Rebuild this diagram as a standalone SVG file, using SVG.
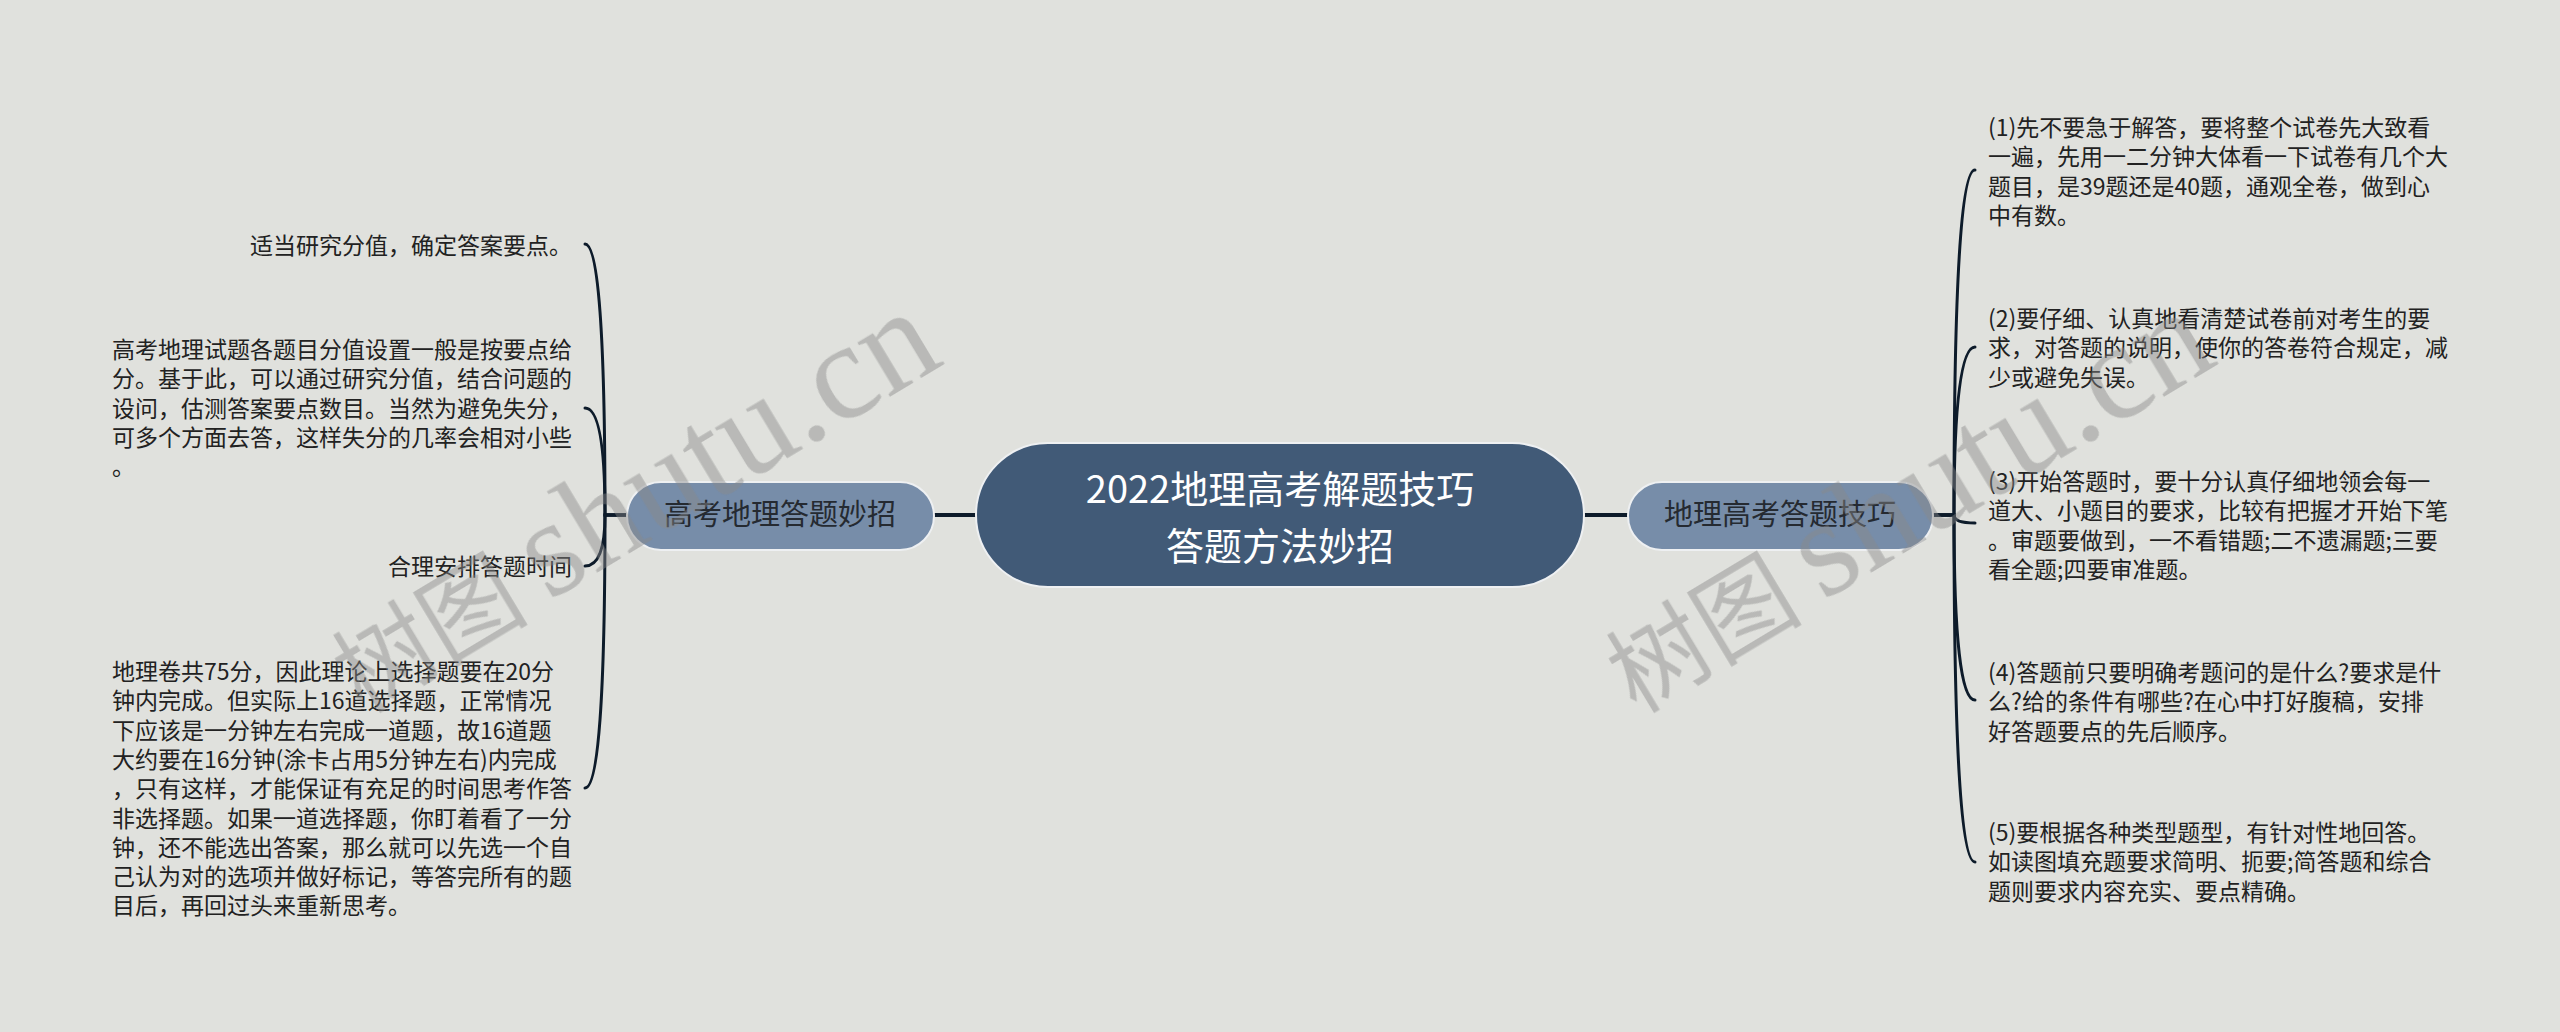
<svg xmlns="http://www.w3.org/2000/svg" width="2560" height="1032" viewBox="0 0 2560 1032">
<style>
.bg{fill:#e0e1dd}
.root{fill:#415a77;stroke:#eef0f2;stroke-width:2}
.branch{fill:#778da9;stroke:#eef0f2;stroke-width:2}
.rt{font-family:"Noto Sans CJK SC","Noto Sans",sans-serif;font-size:38px;fill:#ffffff;text-anchor:middle}
.bt{font-family:"Noto Sans CJK SC","Noto Sans",sans-serif;font-size:29px;fill:#252a31;text-anchor:middle}
.lt{font-family:"Noto Sans CJK SC","Noto Sans",sans-serif;font-size:23px;fill:#222222}
.end{text-anchor:end}
.c1{fill:none;stroke:#0d1b2a;stroke-width:4}
.c2{fill:none;stroke:#0d1b2a;stroke-width:3;stroke-linecap:round}
.wm{fill:#8a8a8a;opacity:0.45}
.wmc{font-family:"Noto Sans CJK SC",sans-serif;font-size:98px}
.wml{font-family:"Liberation Serif",serif;font-size:138px}
</style>
<rect class="bg" x="0" y="0" width="2560" height="1032"/>

<g id="connectors">
<path class="c1" d="M976 515 L934 515"/>
<path class="c1" d="M1584 515 L1628 515"/>
<path class="c2" d="M627 515 L605 515 Q605 244 585 244"/>
<path class="c2" d="M627 515 L605 515 Q605 408 585 408"/>
<path class="c2" d="M627 515 L605 515 Q605 566 585 566"/>
<path class="c2" d="M627 515 L605 515 Q605 788 585 788"/>
<path class="c2" d="M1933 515 L1954 515 Q1954 170 1975 170"/>
<path class="c2" d="M1933 515 L1954 515 Q1954 347 1975 347"/>
<path class="c2" d="M1933 515 L1954 515 Q1954 523 1975 523"/>
<path class="c2" d="M1933 515 L1954 515 Q1954 700 1975 700"/>
<path class="c2" d="M1933 515 L1954 515 Q1954 862 1975 862"/>
</g>

<g id="root">
<rect class="root" x="976" y="443" width="608" height="144" rx="72" ry="72"/>
<text class="rt" x="1280" y="503">2022地理高考解题技巧</text>
<text class="rt" x="1280" y="560">答题方法妙招</text>
</g>

<g id="left-branch">
<rect class="branch" x="627" y="482" width="307" height="68" rx="34" ry="34"/>
<text class="bt" x="780" y="525">高考地理答题妙招</text>
</g>

<g id="right-branch">
<rect class="branch" x="1628" y="482" width="305" height="68" rx="34" ry="34"/>
<text class="bt" x="1780" y="525">地理高考答题技巧</text>
</g>

<g id="left-1">
<text class="lt end" x="572" y="254">适当研究分值，确定答案要点。</text>
</g>

<g id="left-2">
<text class="lt" x="112" y="358">
<tspan x="112" y="358">高考地理试题各题目分值设置一般是按要点给</tspan>
<tspan x="112" dy="29.3">分。基于此，可以通过研究分值，结合问题的</tspan>
<tspan x="112" dy="29.3">设问，估测答案要点数目。当然为避免失分，</tspan>
<tspan x="112" dy="29.3">可多个方面去答，这样失分的几率会相对小些</tspan>
<tspan x="112" dy="29.3">。</tspan>
</text>
</g>

<g id="left-3">
<text class="lt end" x="572" y="575">合理安排答题时间</text>
</g>

<g id="left-4">
<text class="lt" x="112" y="680">
<tspan x="112" y="680">地理卷共75分，因此理论上选择题要在20分</tspan>
<tspan x="112" dy="29.3">钟内完成。但实际上16道选择题，正常情况</tspan>
<tspan x="112" dy="29.3">下应该是一分钟左右完成一道题，故16道题</tspan>
<tspan x="112" dy="29.3">大约要在16分钟(涂卡占用5分钟左右)内完成</tspan>
<tspan x="112" dy="29.3">，只有这样，才能保证有充足的时间思考作答</tspan>
<tspan x="112" dy="29.3">非选择题。如果一道选择题，你盯着看了一分</tspan>
<tspan x="112" dy="29.3">钟，还不能选出答案，那么就可以先选一个自</tspan>
<tspan x="112" dy="29.3">己认为对的选项并做好标记，等答完所有的题</tspan>
<tspan x="112" dy="29.3">目后，再回过头来重新思考。</tspan>
</text>
</g>

<g id="right-1">
<text class="lt" x="1988" y="136">
<tspan x="1988" y="136">(1)先不要急于解答，要将整个试卷先大致看</tspan>
<tspan x="1988" dy="29.3">一遍，先用一二分钟大体看一下试卷有几个大</tspan>
<tspan x="1988" dy="29.3">题目，是39题还是40题，通观全卷，做到心</tspan>
<tspan x="1988" dy="29.3">中有数。</tspan>
</text>
</g>

<g id="right-2">
<text class="lt" x="1988" y="327">
<tspan x="1988" y="327">(2)要仔细、认真地看清楚试卷前对考生的要</tspan>
<tspan x="1988" dy="29.3">求，对答题的说明，使你的答卷符合规定，减</tspan>
<tspan x="1988" dy="29.3">少或避免失误。</tspan>
</text>
</g>

<g id="right-3">
<text class="lt" x="1988" y="490">
<tspan x="1988" y="490">(3)开始答题时，要十分认真仔细地领会每一</tspan>
<tspan x="1988" dy="29.3">道大、小题目的要求，比较有把握才开始下笔</tspan>
<tspan x="1988" dy="29.3">。审题要做到，一不看错题;二不遗漏题;三要</tspan>
<tspan x="1988" dy="29.3">看全题;四要审准题。</tspan>
</text>
</g>

<g id="right-4">
<text class="lt" x="1988" y="681">
<tspan x="1988" y="681">(4)答题前只要明确考题问的是什么?要求是什</tspan>
<tspan x="1988" dy="29.3">么?给的条件有哪些?在心中打好腹稿，安排</tspan>
<tspan x="1988" dy="29.3">好答题要点的先后顺序。</tspan>
</text>
</g>

<g id="right-5">
<text class="lt" x="1988" y="841">
<tspan x="1988" y="841">(5)要根据各种类型题型，有针对性地回答。</tspan>
<tspan x="1988" dy="29.3">如读图填充题要求简明、扼要;简答题和综合</tspan>
<tspan x="1988" dy="29.3">题则要求内容充实、要点精确。</tspan>
</text>
</g>

<g id="watermarks" class="wm">
<text transform="translate(362 714) rotate(-31)"><tspan class="wmc">树图</tspan><tspan class="wml" dx="22">shutu.cn</tspan></text>
<text transform="translate(1636 714) rotate(-31)"><tspan class="wmc">树图</tspan><tspan class="wml" dx="22">shutu.cn</tspan></text>
</g>
</svg>
